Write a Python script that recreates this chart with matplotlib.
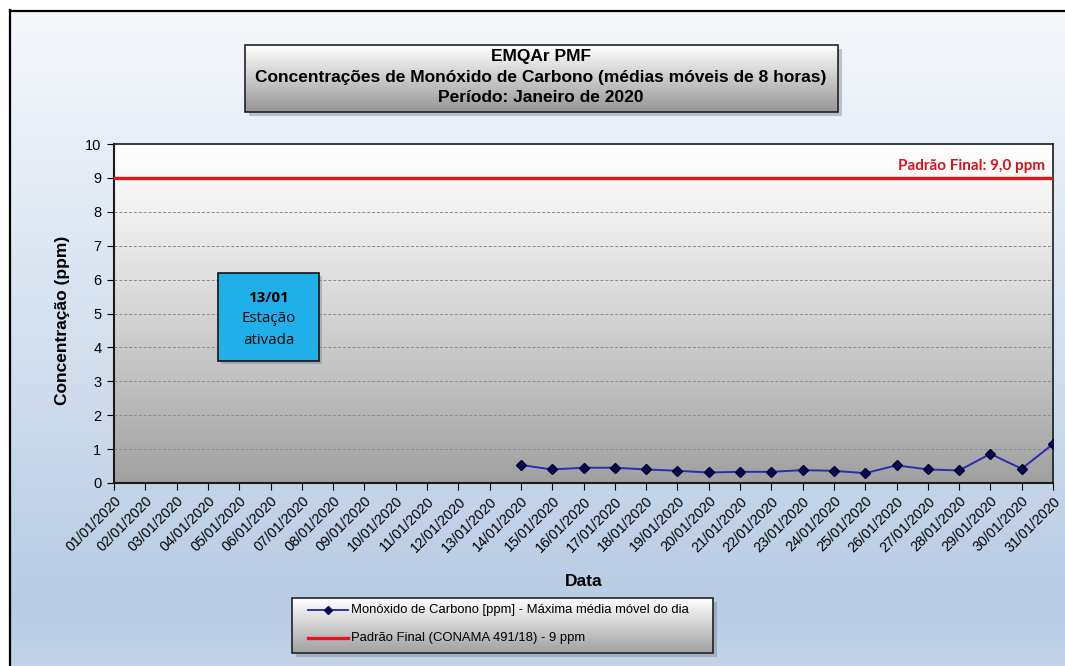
import numpy as np
import matplotlib
matplotlib.use("Agg")
import matplotlib.pyplot as plt
from matplotlib.patches import Rectangle

# ---------------- data ---------------- #
days = [f"{d:02d}/01/2020" for d in range(1, 32)]
co_days = list(range(14, 32))
co_values = [0.53, 0.40, 0.45, 0.45, 0.40, 0.36, 0.31, 0.33, 0.33,
             0.38, 0.36, 0.29, 0.52, 0.40, 0.37, 0.86, 0.42, 1.15]
standard_ppm = 9.0
y_ticks = list(range(0, 11))

plt.rcParams["font.family"] = ["Liberation Sans", "DejaVu Sans"]

W, H = 1065, 666
fig = plt.figure(figsize=(W / 100, H / 100), dpi=100)


def px(x0, y0, x1, y1):
    """pixel box (top-left origin) -> figure fraction rect"""
    return [x0 / W, 1 - y1 / H, (x1 - x0) / W, (y1 - y0) / H]


def pixel_axes(zorder):
    a = fig.add_axes([0, 0, 1, 1], zorder=zorder)
    a.set_xlim(0, W)
    a.set_ylim(H, 0)
    a.axis("off")
    a.patch.set_alpha(0)
    return a


# ---------------- figure background ---------------- #
bg = pixel_axes(-10)
top_c = np.array([246, 248, 252]) / 255
mid_c = np.array([184, 204, 228]) / 255
bot_c = np.array([198, 213, 232]) / 255
t = np.linspace(0, 1, 300)[:, None]
grad = np.where(t < 0.88,
                top_c + (mid_c - top_c) * (t / 0.88),
                mid_c + (bot_c - mid_c) * ((t - 0.88) / 0.12))
bg.imshow(grad[:, None, :], extent=[10, W + 20, H + 20, 10], aspect="auto")
bg.set_xlim(0, W)
bg.set_ylim(H, 0)
bg.plot([10, 10], [H + 20, 10], color="black", lw=1.6)
bg.plot([10, W + 20], [10.5, 10.5], color="black", lw=1.6)


def shaded_box(a, x0, y0, x1, y1, c_top, c_bot, zorder=0):
    # drop shadow
    a.add_patch(Rectangle((x0 + 4, y0 + 4), x1 - x0, y1 - y0,
                          facecolor="#7a8796", alpha=0.45, lw=0,
                          zorder=zorder))
    g = np.linspace(0, 1, 100)[:, None]
    col = np.array(c_top) / 255 + (np.array(c_bot) - np.array(c_top)) / 255 * g
    a.imshow(col[:, None, :], extent=[x0, x1, y1, y0], aspect="auto",
             zorder=zorder + 1)
    a.add_patch(Rectangle((x0, y0), x1 - x0, y1 - y0, fill=False,
                          edgecolor="#222222", lw=1.2, zorder=zorder + 2))


# title box
shaded_box(bg, 245, 45, 838, 112, (255, 255, 255), (150, 150, 150))
title_lines = ["EMQAr PMF",
               "Concentrações de Monóxido de Carbono (médias móveis de 8 horas)",
               "Período: Janeiro de 2020"]
for i, line in enumerate(title_lines):
    bg.text(541, 57 + 20.5 * i, line, ha="center", va="center",
            fontsize=12.5, fontweight="bold", zorder=5)

# legend box
shaded_box(bg, 292, 598, 713, 653, (255, 255, 255), (160, 160, 160))
bg.plot([308, 348], [610, 610], color="#2323a0", lw=1.3, zorder=6)
bg.plot([328], [610], marker="D", color="#0a0a50", markersize=4, zorder=7)
bg.text(351, 610, "Monóxido de Carbono [ppm] - Máxima média móvel do dia",
        va="center", fontsize=9.4, zorder=6)
bg.plot([308, 348], [638, 638], color="#e8141b", lw=2.4, zorder=6)
bg.text(351, 638, "Padrão Final (CONAMA 491/18) - 9 ppm",
        va="center", fontsize=9.4, zorder=6)

# ---------------- main axes ---------------- #
ax = fig.add_axes(px(114, 144, 1053, 483))
x = np.arange(len(days))
ax.set_xlim(0, len(days) - 1)
ax.set_ylim(0, 10)

# plot-area gradient
g = np.linspace(0, 1, 200)[:, None]
pa = np.array([1.0, 1.0, 1.0]) + (np.array([160, 160, 160]) / 255 - 1.0) * g ** 1.15
ax.imshow(pa[:, None, :], extent=[0, len(days) - 1, 0, 10], aspect="auto",
          zorder=0)

for yv in y_ticks[1:-1]:
    ax.axhline(yv, color="#8a8a8a", lw=0.7, ls=(0, (3, 2)), zorder=1)

ax.axhline(standard_ppm, color="#e8141b", lw=2.4, zorder=3)
ax.text(len(days) - 1.25, standard_ppm + 0.14, "Padrão Final: 9,0 ppm",
        color="#d8141b", fontsize=11, fontweight="bold", ha="right",
        va="bottom", family=["Lato", "DejaVu Sans"], zorder=4)

co_x = [days.index(f"{d:02d}/01/2020") for d in co_days]
ax.plot(co_x, co_values, color="#2a2ab5", lw=1.4, zorder=4)
ax.plot(co_x, co_values, ls="none", marker="D", markersize=5,
        color="#0a0a55", markeredgecolor="#000030", zorder=5)

ax.set_xticks(x)
ax.set_xticklabels(days, rotation=45, ha="right", rotation_mode="anchor",
                   fontsize=10.3)
ax.set_yticks(y_ticks)
ax.tick_params(axis="y", labelsize=10.5, length=5, direction="out", pad=4)
ax.tick_params(axis="x", length=5, direction="out", pad=3)
for s in ["left", "bottom"]:
    ax.spines[s].set_linewidth(1.5)
    ax.spines[s].set_color("#1a1a1a")
for s in ["top", "right"]:
    ax.spines[s].set_linewidth(1.2)
    ax.spines[s].set_color("#1a1a1a")
ax.set_ylabel("Concentração (ppm)", fontsize=12.5, fontweight="bold")
ax.yaxis.set_label_coords(-0.047, 0.48)
ax.set_xlabel("Data", fontsize=12.5, fontweight="bold", labelpad=14)

# ---------------- station-start note (on top) ---------------- #
fg = pixel_axes(10)
fg.add_patch(Rectangle((221, 276), 101, 88, facecolor="#7a8796", alpha=0.45,
                       lw=0, zorder=1))
fg.add_patch(Rectangle((218, 273), 101, 88, facecolor="#1fb0ea",
                       edgecolor="#111111", lw=1.2, zorder=2))
fg.text(268.5, 298, "13/01", ha="center", va="center", fontsize=10.8,
        fontweight="bold", family=["Open Sans", "DejaVu Sans"], zorder=3)
for i, line in enumerate(["Estação", "ativada"]):
    fg.text(268.5, 319 + 21 * i, line, ha="center", va="center",
            fontsize=10.8, family=["Open Sans", "DejaVu Sans"], zorder=3)

fig.savefig("out.png", dpi=100)
